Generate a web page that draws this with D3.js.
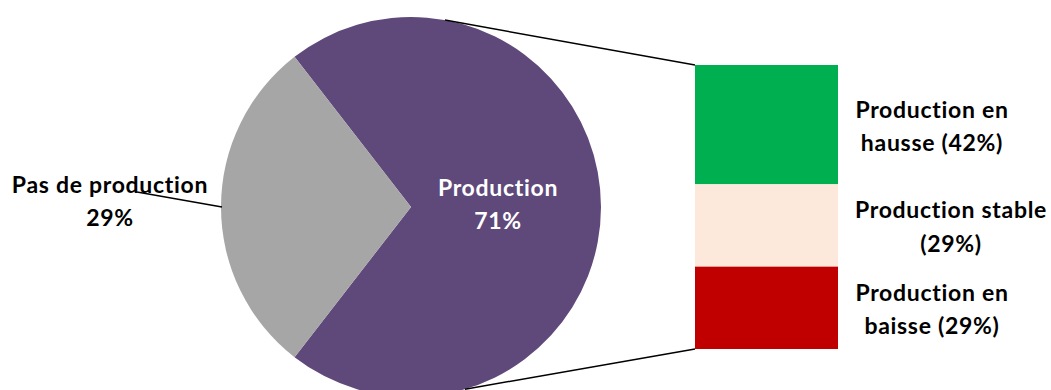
<!DOCTYPE html>
<html>
<head>
<meta charset="utf-8">
<script src="https://cdn.jsdelivr.net/npm/d3@7"></script>
<style>
  html, body { margin: 0; padding: 0; background: #fff; }
  svg { display: block; }
  text { font-family: Lato, "Open Sans", sans-serif; font-weight: bold; font-variant-ligatures: none; letter-spacing: 0.7px; }
</style>
</head>
<body>
<svg id="chart" width="1051" height="390"></svg>
<script>
// Main pie: share of firms with / without production
const pieLabels = ["Production", "Pas de production"];
const pieValues = [71, 29];
const pieColors = ["#5F497A", "#A6A6A6"];

// Breakdown of the "Production" share, stacked bar
const barLabels = [["Production en", "hausse (42%)"], ["Production stable", "(29%)"], ["Production en", "baisse (29%)"]];
const barValues = [42, 29, 29];
const barColors = ["#00B050", "#FCE9DB", "#C00000"];

const svg = d3.select("#chart");

const cx = 411, cy = 207, R = 190;
const graySharePi = pieValues[1] / 100 * Math.PI;
// place the "Pas de production" slice centred on the left side
const start = 1.5 * Math.PI + graySharePi;

const pie = d3.pie().sort(null).value(d => d)
  .startAngle(start).endAngle(start + 2 * Math.PI);
const arcs = pie(pieValues);
const arc = d3.arc().innerRadius(0).outerRadius(R);

const g = svg.append("g").attr("transform", `translate(${cx},${cy})`);
g.selectAll("path").data(arcs).join("path")
  .attr("d", arc)
  .attr("fill", (d, i) => pieColors[i]);

// stacked bar
const barX = 695, barW = 143;
const y = d3.scaleLinear().domain([0, d3.sum(barValues)]).range([65, 349]);
const cum = d3.cumsum([0, ...barValues]);
svg.selectAll("rect.seg").data(barValues).join("rect")
  .attr("class", "seg")
  .attr("x", barX).attr("width", barW)
  .attr("y", (d, i) => y(cum[i]))
  .attr("height", d => y(d) - y(0))
  .attr("fill", (d, i) => barColors[i]);

// connector lines from the pie edge to the bar
const pt = a => [cx + R * Math.sin(a), cy - R * Math.cos(a)];
const topStart = pt(10.3 * Math.PI / 180);
const botStart = pt(163.5 * Math.PI / 180);
svg.append("line")
  .attr("x1", topStart[0]).attr("y1", topStart[1])
  .attr("x2", barX).attr("y2", y(0))
  .attr("stroke", "#000").attr("stroke-width", 1.5);
svg.append("line")
  .attr("x1", botStart[0]).attr("y1", botStart[1])
  .attr("x2", barX).attr("y2", y(d3.sum(barValues)))
  .attr("stroke", "#000").attr("stroke-width", 1.5);

// leader line for the grey slice label
const grayMid = (arcs[1].startAngle + arcs[1].endAngle) / 2;
const gp = pt(grayMid);
svg.append("line")
  .attr("x1", 137).attr("y1", 192)
  .attr("x2", gp[0] + 1).attr("y2", gp[1])
  .attr("stroke", "#000").attr("stroke-width", 1.5);

const fs = 23;
// pie labels
svg.append("text").attr("x", 110).attr("y", 193).attr("text-anchor", "middle")
  .attr("font-size", fs).attr("fill", "#000").text(pieLabels[1]);
svg.append("text").attr("x", 110).attr("y", 226).attr("text-anchor", "middle")
  .attr("font-size", fs).attr("fill", "#000").text(pieValues[1] + "%");
svg.append("text").attr("x", 498).attr("y", 196).attr("text-anchor", "middle")
  .attr("font-size", fs).attr("fill", "#fff").text(pieLabels[0]);
svg.append("text").attr("x", 498).attr("y", 229).attr("text-anchor", "middle")
  .attr("font-size", fs).attr("fill", "#fff").text(pieValues[0] + "%");

// bar labels
const labelCx = [932, 951, 932];
barValues.forEach((v, i) => {
  const mid = (y(cum[i]) + y(cum[i + 1])) / 2;
  const t = svg.append("text").attr("text-anchor", "middle")
    .attr("font-size", fs).attr("fill", "#000");
  barLabels[i].forEach((line, j) => {
    t.append("tspan").attr("x", labelCx[i]).attr("y", mid - 7 + j * 33.5).text(line);
  });
});
</script>
</body>
</html>
